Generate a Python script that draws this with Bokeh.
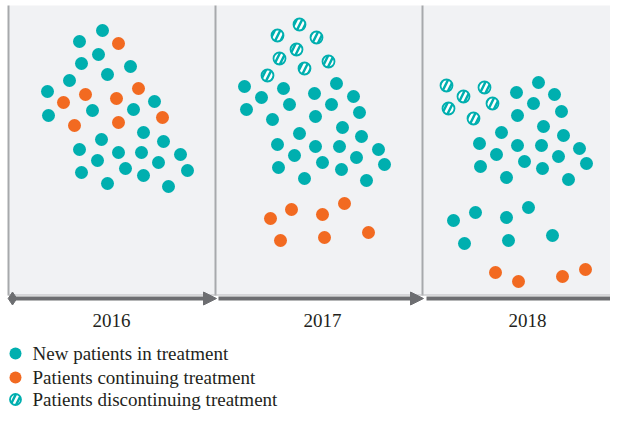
from bokeh.plotting import figure
from bokeh.models import Range1d, Arrow, NormalHead
from bokeh.core.properties import value
from bokeh.embed import file_html
from bokeh.resources import INLINE

TEAL = "#00AFAF"
ORANGE = "#F26A21"
PANEL = "#F1F2F4"
GRAY = "#6D6E71"

years = ["2016", "2017", "2018"]
panel_left = [8, 215, 422]
panel_right = [215, 422, 626]

# New patients in treatment (x, y positions in chart units)
new_x = [102, 79, 98, 81, 130, 107, 69, 47, 154, 92, 133, 48, 143, 101, 163, 79, 118, 141, 180, 97, 158, 125, 187, 81, 143, 107, 168,
         244, 336, 283, 261, 314, 353, 289, 331, 246, 359, 272, 315, 342, 299, 361, 277, 315, 339, 378, 294, 356, 322, 278, 341, 384, 304, 366,
         538, 516, 554, 533, 561, 517, 543, 501, 563, 479, 517, 541, 579, 496, 558, 524, 586, 480, 542, 506, 568,
         528, 475, 453, 506, 552, 464, 508]
new_y = [30, 41, 54, 63, 66, 74, 80, 91, 101, 110, 109, 115, 132, 139, 141, 149, 152, 152, 154, 160, 162, 168, 170, 172, 175, 183, 186,
         86, 83, 88, 97, 93, 96, 104, 104, 109, 112, 119, 116, 127, 133, 136, 144, 146, 146, 149, 155, 157, 162, 167, 169, 164, 178, 180,
         82, 92, 94, 103, 111, 115, 126, 132, 135, 143, 145, 145, 148, 154, 156, 161, 163, 166, 168, 177, 179,
         207, 212, 220, 217, 235, 243, 240]

# Patients continuing treatment
cont_x = [118, 138, 85, 63, 116, 162, 74, 118,
          344, 291, 270, 322, 368, 280, 324,
          585, 495, 562, 518]
cont_y = [43, 88, 94, 102, 98, 117, 125, 122,
          203, 209, 218, 214, 232, 240, 237,
          269, 272, 276, 281]

# Patients discontinuing treatment
disc_x = [299, 277, 316, 296, 279, 328, 304, 267,
          446, 484, 463, 448, 492, 473]
disc_y = [24, 35, 37, 49, 58, 61, 68, 75,
          85, 87, 96, 108, 103, 118]

legend_labels = ["New patients in treatment", "Patients continuing treatment", "Patients discontinuing treatment"]

p = figure(width=610, height=412, output_backend="svg", toolbar_location=None,
           x_range=Range1d(0, 610), y_range=Range1d(412, 0), min_border=0)
p.axis.visible = False
p.grid.visible = False
p.outline_line_color = None
p.background_fill_color = "white"
p.border_fill_color = "white"

# panels
p.quad(left=panel_left, right=panel_right, top=[5] * 3, bottom=[295] * 3, fill_color=PANEL, line_color=None)
p.segment(x0=panel_left, x1=panel_left, y0=[5] * 3, y1=[295] * 3, line_color="#A7A9AC", line_width=2)
p.segment(x0=[8], x1=[626], y0=[294.5], y1=[294.5], line_color="#B8B9BC", line_width=1)

# arrows
arrow_start = [10, 218, 426]
arrow_end = [216, 423, 627]
for s, e in zip(arrow_start, arrow_end):
    p.add_layout(Arrow(x_start=s, y_start=298, x_end=e, y_end=298, line_color=GRAY, line_width=4,
                       end=NormalHead(size=13, fill_color=GRAY, line_color=GRAY, line_width=1)))
p.scatter(x=[12], y=[298], marker="diamond", size=13, fill_color=GRAY, line_color=GRAY)

# year labels
p.text(x=[111, 322, 527], y=[320] * 3, text=years, text_font=value("Liberation Serif"),
       text_font_size="19px", text_color="#231F20", text_align="center", text_baseline="middle")

# dots
p.scatter(x=new_x, y=new_y, size=13, fill_color=TEAL, line_color=None)
p.scatter(x=cont_x, y=cont_y, size=13, fill_color=ORANGE, line_color=None)
p.scatter(x=disc_x, y=disc_y, size=12, fill_color="white", line_color=TEAL, line_width=1.8,
          hatch_pattern="/", hatch_color=TEAL, hatch_weight=2.5, hatch_scale=11)

# legend
ly = [353, 377, 399]
p.scatter(x=[15], y=[ly[0]], size=12, fill_color=TEAL, line_color=None)
p.scatter(x=[15], y=[ly[1]], size=12, fill_color=ORANGE, line_color=None)
p.scatter(x=[15], y=[ly[2]], size=11, fill_color="white", line_color=TEAL, line_width=1.8,
          hatch_pattern="/", hatch_color=TEAL, hatch_weight=2.5, hatch_scale=11)
p.text(x=[32] * 3, y=ly, text=legend_labels, text_font=value("Liberation Serif"),
       text_font_size="19px", text_color="#231F20", text_align="left", text_baseline="middle")

open("out.html", "w").write(file_html(p, INLINE))
